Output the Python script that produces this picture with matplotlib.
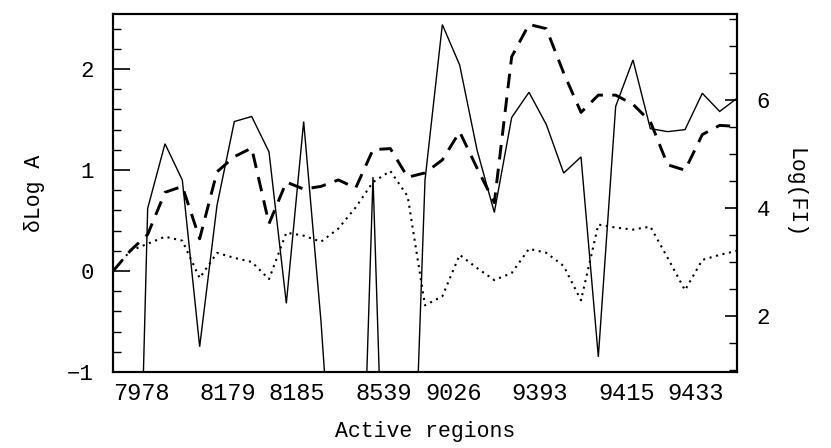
import numpy as np
import matplotlib
matplotlib.use("Agg")
import matplotlib.pyplot as plt
from matplotlib.ticker import MultipleLocator, FixedLocator

# ---- data ----
regions = ["7978", "8179", "8185", "8539", "9026", "9393", "9415", "9433"]
region_start = [0, 5, 9, 14, 18, 23, 28, 32]   # index of first point of each region

# delta Log A (solid)
dlogA_solid = [np.nan, -6.0, 0.62, 1.26, 0.90, -0.75, 0.65, 1.48, 1.53, 1.18,
               -0.32, 1.48, -0.50, -3.0, -4.5, 0.93, -4.5, -4.0, 0.90, 2.44,
               2.04, 1.20, 0.58, 1.52, 1.77, 1.45, 0.97, 1.13, -0.85, 1.63,
               2.09, 1.41, 1.38, 1.40, 1.76, 1.58, 1.71]
# delta Log A (dotted)
dlogA_dotted = [0.00, 0.20, 0.27, 0.34, 0.30, -0.07, 0.18, 0.13, 0.09, -0.08,
                0.38, 0.35, 0.29, 0.42, 0.63, 0.88, 0.99, 0.74, -0.34, -0.25,
                0.16, 0.03, -0.09, -0.02, 0.22, 0.18, 0.05, -0.29, 0.46, 0.43,
                0.41, 0.44, 0.13, -0.19, 0.11, 0.16, 0.20]
# Log(FI) (dashed, right axis)
logFI = [2.83, 3.21, 3.51, 4.29, 4.40, 3.43, 4.67, 4.95, 5.11, 3.71,
         4.48, 4.35, 4.40, 4.52, 4.37, 5.08, 5.10, 4.57, 4.65, 4.89,
         5.41, 4.74, 4.10, 6.80, 7.40, 7.32, 6.50, 5.77, 6.09, 6.09,
         5.92, 5.60, 4.80, 4.70, 5.36, 5.53, 5.51]

x = np.arange(len(logFI))

plt.rcParams['font.family'] = ['Liberation Mono', 'DejaVu Sans']

fig = plt.figure(figsize=(8.31, 4.48), dpi=100)
ax = fig.add_axes([113/831, 76/448, (737-113)/831, (372-14)/448])
ax2 = ax.twinx()

ax.plot(x, dlogA_solid, color='black', lw=1.0, solid_joinstyle='miter')
ax.plot(x, dlogA_dotted, color='black', lw=1.5, linestyle=(0, (1, 2.2)))
ax2.plot(x, logFI, color='black', lw=2.1, linestyle=(0, (5, 3.2)))

ylo, yhi = -1.0, 2.545
ax.set_ylim(ylo, yhi)
ax2.set_ylim(2.833 + 1.870*ylo, 2.833 + 1.870*yhi)
ax.set_xlim(0, len(logFI) - 1)

ax.yaxis.set_major_locator(FixedLocator([-1, 0, 1, 2]))
ax.yaxis.set_minor_locator(MultipleLocator(0.2))
ax2.yaxis.set_major_locator(FixedLocator([2, 4, 6]))
ax2.yaxis.set_minor_locator(MultipleLocator(0.5))

ax.set_xticks(region_start)
ax.set_xticklabels(regions, ha='left')
ax.tick_params(axis='x', length=0, pad=7, labelsize=17)
ax.tick_params(axis='y', which='major', direction='in', length=12, width=1.2,
               labelsize=16, pad=14)
ax.tick_params(axis='y', which='minor', direction='in', length=6, width=1.0)
ax2.tick_params(axis='y', which='major', direction='in', length=9, width=1.2,
                labelsize=16, pad=14)
ax2.tick_params(axis='y', which='minor', direction='in', length=6, width=1.0)
ax.tick_params(axis='x', which='minor', length=0)

for a in (ax, ax2):
    for s in a.spines.values():
        s.set_linewidth(1.5)

ax.set_xlabel("Active regions", fontsize=15.5, labelpad=12)
ax.set_ylabel("δLog A", fontsize=15.5, labelpad=16)
ax2.set_ylabel("Log(FI)", fontsize=15.5, rotation=-90, labelpad=26)

fig.savefig("out.png", dpi=100)
